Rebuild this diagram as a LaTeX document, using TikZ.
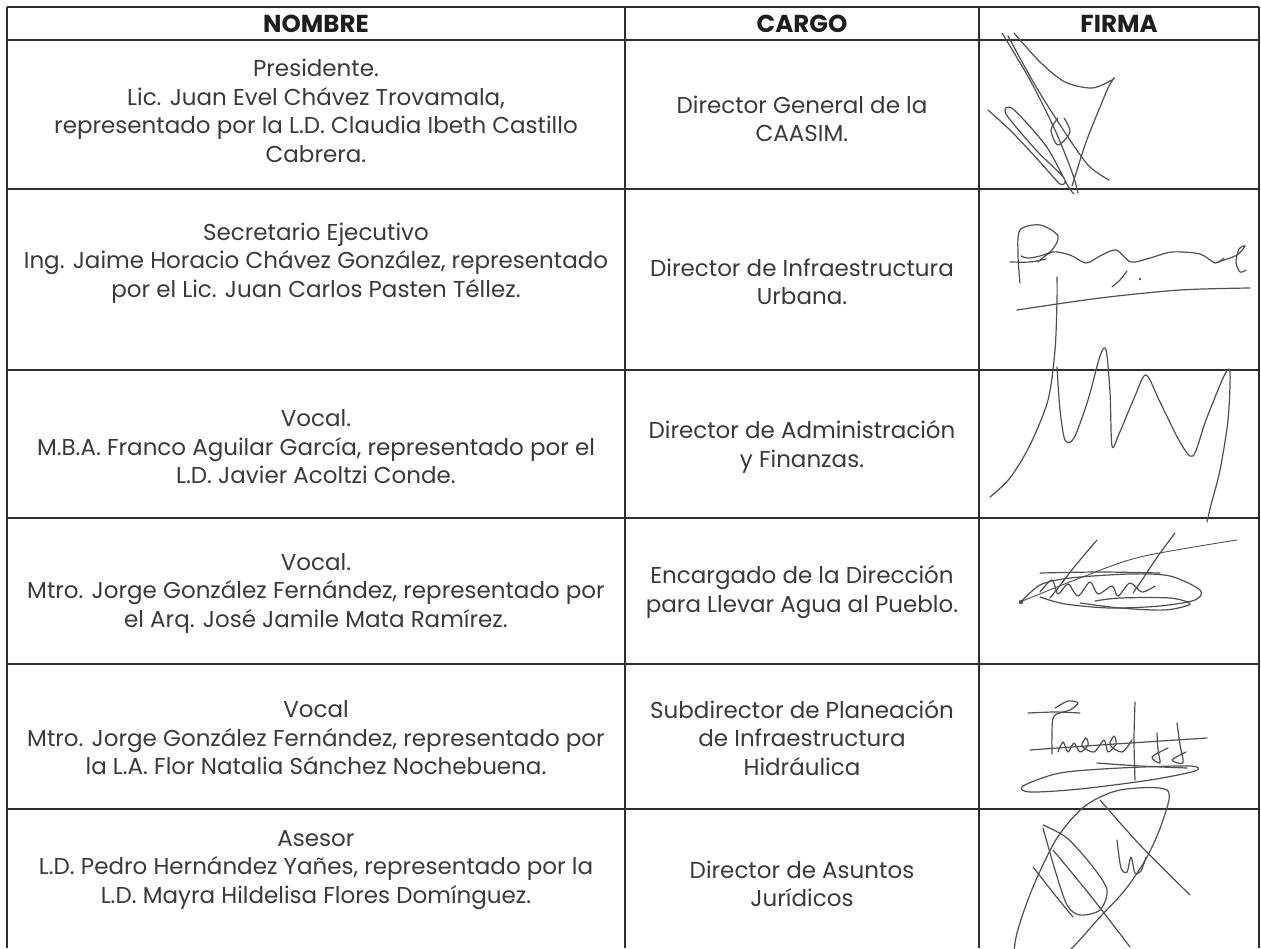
\documentclass[tikz,border=0pt]{standalone}
\usepackage{fontspec}
\setmainfont{Poppins}
\usepackage{tikz}

\definecolor{textgray}{HTML}{3A3A3A}
\definecolor{headgray}{HTML}{1E1E1E}
\definecolor{rulegray}{HTML}{2E2E2E}
\definecolor{inkgray}{HTML}{505050}

\begin{document}
\begin{tikzpicture}[x=1pt,y=-1pt,
        cell/.style={align=center,text=textgray,font=\fontsize{23}{28.5}\selectfont},
        head/.style={text=headgray,font=\fontsize{24.5}{28}\selectfont\bfseries},
        hrule/.style={draw=rulegray,line width=1.7pt},
        vrule/.style={draw=rulegray,line width=1.1pt},
        sig/.style={draw=inkgray,line width=1.2pt,line cap=round,line join=round}]
        \useasboundingbox[fill=white] (0,0) rectangle (1261,948);
        \clip (0,0) rectangle (1261,948);

        \draw[hrule] (7,7) -- (1259,7);
        \draw[hrule] (7,40) -- (1259,40);
        \draw[hrule] (7,189) -- (1259,189);
        \draw[hrule] (7,370) -- (1259,370);
        \draw[hrule] (7,518) -- (1259,518);
        \draw[hrule] (7,664) -- (1259,664);
        \draw[hrule] (7,809) -- (1259,809);
        \draw[vrule] (7,7) -- (7,948);
        \draw[vrule] (625,7) -- (625,948);
        \draw[vrule] (979,7) -- (979,948);
        \draw[vrule] (1259,7) -- (1259,948);

        \node[head] (nombreHead) at (316,24) {NOMBRE};
        \node[head] (cargoHead) at (802,24) {CARGO};
        \node[head] (firmaHead) at (1119,24) {FIRMA};

        \node[cell] (nombrePresidente) at (316,111) {Presidente.\\Lic. Juan Evel Chávez Trovamala,\\representado por la L.D. Claudia Ibeth Castillo\\Cabrera.};
        \node[cell] (cargoPresidente) at (802,119) {Director General de la\\CAASIM.};

        \node[cell] (nombreSecretario) at (316,263) {Secretario Ejecutivo\\Ing. Jaime Horacio Chávez González, representado\\por el Lic. Juan Carlos Pasten Téllez.};
        \node[cell] (cargoSecretario) at (802,282) {Director de Infraestructura\\Urbana.};

        \node[cell] (nombreVocalA) at (316,447) {Vocal.\\M.B.A. Franco Aguilar García, representado por el\\L.D. Javier Acoltzi Conde.};
        \node[cell] (cargoVocalA) at (802,447) {Director de Administración\\y Finanzas.};

        \node[cell] (nombreVocalB) at (316,593) {Vocal.\\Mtro. Jorge González Fernández, representado por\\el Arq. José Jamile Mata Ramírez.};
        \node[cell] (cargoVocalB) at (802,592) {Encargado de la Dirección\\para Llevar Agua al Pueblo.};

        \node[cell] (nombreVocalC) at (316,738) {Vocal\\Mtro. Jorge González Fernández, representado por\\la L.A. Flor Natalia Sánchez Nochebuena.};
        \node[cell] (cargoVocalC) at (802,738) {Subdirector de Planeación\\de Infraestructura\\Hidráulica};

        \node[cell] (nombreAsesor) at (316,870) {Asesor\\L.D. Pedro Hernández Yañes, representado por la\\L.D. Mayra Hildelisa Flores Domínguez.};
        \node[cell] (cargoAsesor) at (802,884) {Director de Asuntos\\Jurídicos};

        \draw[sig] plot[smooth] coordinates {(1002,33) (1030,80) (1055,130) (1072,172) (1078,193)};
        \draw[sig] plot[smooth] coordinates {(1008,36) (1035,85) (1062,128) (1088,165) (1109,180)};
        \draw[sig] plot[smooth] coordinates {(1014,33) (1040,62) (1065,82) (1092,88) (1112,80) (1114,78) (1108,88) (1098,112) (1086,142) (1077,170) (1072,186)};
        \draw[sig] plot[smooth] coordinates {(988,110) (1012,132) (1040,162) (1060,184) (1064,178) (1036,150) (1006,114) (1013,109) (1046,146) (1068,186) (1074,194)};
        \draw[sig] plot[smooth] coordinates {(1058,118) (1051,130) (1058,145) (1070,132) (1064,118)};

        \draw[sig] plot[smooth] coordinates {(1020,283) (1018,255) (1020,230) (1040,225) (1058,236) (1050,252) (1030,258) (1021,256)};
        \draw[sig] plot[smooth] coordinates {(1010,262) (1030,262) (1046,259)};
        \draw[sig] plot[smooth] coordinates {(1038,262) (1052,252) (1070,255) (1086,263) (1100,256) (1116,250) (1131,262) (1150,258) (1172,252) (1200,254) (1215,263) (1224,258)};
        \draw[sig] plot[smooth] coordinates {(1218,262) (1237,255) (1245,246) (1239,249) (1236,262) (1240,272) (1246,270)};
        \draw[sig] plot[smooth] coordinates {(1127,271) (1120,280) (1112,287)};
        \fill[inkgray] (1140,279) circle (1.3);
        \draw[sig] plot[smooth] coordinates {(1017,310) (1100,298) (1180,290) (1250,288)};

        \draw[sig] plot[smooth] coordinates {(990,497) (1010,478) (1030,445) (1048,400) (1055,350) (1057,300) (1057,277)};
        \draw[sig] plot[smooth] coordinates {(1057,367) (1060,410) (1065,440) (1074,438) (1088,400) (1100,356) (1106,350) (1110,392) (1112,446) (1119,434) (1135,396) (1146,375) (1160,402) (1180,442) (1193,456) (1206,420) (1224,376) (1230,372) (1228,420) (1220,470) (1211,505) (1207,522)};

        \draw[sig] plot[smooth] coordinates {(1097,540) (1075,566) (1058,588) (1050,598)};
        \draw[sig] plot[smooth] coordinates {(1175,533) (1158,556) (1142,580) (1133,593)};
        \draw[sig,line width=0.9pt] plot[smooth] coordinates {(1020,602) (1080,578) (1140,557) (1237,540)};
        \draw[sig] plot[smooth] coordinates {(1020,603) (1040,585) (1070,578) (1130,574) (1170,576) (1200,590) (1195,600) (1160,606) (1110,608) (1065,604) (1040,597)};
        \draw[sig] plot[smooth] coordinates {(1080,603) (1120,608) (1165,610) (1190,604) (1170,598) (1120,598) (1095,601)};
        \draw[sig] plot[smooth] coordinates {(1040,592) (1052,580) (1058,594) (1068,584) (1078,596) (1090,582) (1098,594) (1112,586) (1118,596) (1130,583) (1142,592) (1155,586)};
        \draw[sig] plot[smooth] coordinates {(1040,573) (1100,572) (1160,573)};
        \fill[inkgray] (1021,602) circle (2.2);

        \draw[sig] plot[smooth] coordinates {(1028,713) (1055,712) (1080,713)};
        \draw[sig] plot[smooth] coordinates {(1055,708) (1068,701) (1078,703) (1070,710) (1054,716) (1052,735) (1052,754)};
        \draw[sig] plot[smooth] coordinates {(1030,750) (1100,745) (1207,738)};
        \draw[sig] plot[smooth] coordinates {(1058,752) (1063,742) (1068,752) (1074,743) (1080,752) (1088,745) (1086,738) (1082,746) (1094,752) (1104,740) (1108,752) (1116,744) (1114,736) (1110,745) (1122,752) (1132,740)};
        \draw[sig] plot[smooth] coordinates {(1135,702) (1134,740) (1135,780)};
        \draw[sig] plot[smooth] coordinates {(1157,733) (1158,750) (1160,763) (1152,757) (1168,748)};
        \draw[sig] plot[smooth] coordinates {(1177,723) (1180,745) (1183,763) (1172,760) (1186,752)};
        \draw[sig] plot[smooth cycle] coordinates {(1023,786) (1060,773) (1120,768) (1190,766) (1195,771) (1150,780) (1080,789) (1030,792)};
        \draw[sig] plot[smooth] coordinates {(1097,763) (1140,766) (1187,768)};

        \draw[sig] plot[smooth cycle] coordinates {(1167,790) (1163,820) (1147,857) (1125,890) (1100,917) (1073,947) (1050,966) (1030,972) (1015,960) (1017,933) (1033,887) (1057,838) (1085,806) (1120,790)};
        \draw[sig] plot[smooth] coordinates {(1043,825) (1067,838) (1093,867) (1107,890) (1100,910) (1080,915) (1067,905) (1055,870) (1043,828)};
        \draw[sig] plot[smooth] coordinates {(1100,800) (1140,845) (1190,895)};
        \draw[sig] plot[smooth] coordinates {(1053,850) (1090,895) (1130,947)};
        \draw[sig] plot[smooth] coordinates {(1033,867) (1055,895) (1073,917)};
        \draw[sig] plot[smooth] coordinates {(1117,840) (1121,868) (1127,872) (1131,857) (1135,873) (1141,871) (1146,857)};
\end{tikzpicture}
\end{document}
